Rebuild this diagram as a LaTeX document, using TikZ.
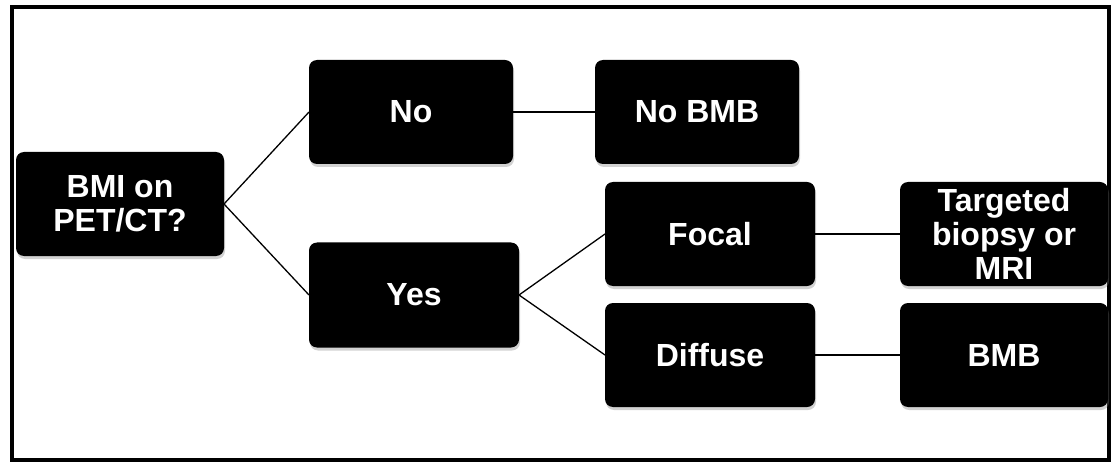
\documentclass[tikz,border=0pt]{standalone}
\usepackage{fontspec}
\setmainfont{Liberation Sans}
\usetikzlibrary{shadows}
\begin{document}
\begin{tikzpicture}[x=1pt,y=-1pt,
  blackbox/.style={fill=black, rounded corners=8pt, text=white,
    font=\fontsize{32}{34}\selectfont\bfseries, align=center,
    inner sep=0pt, outer sep=0pt,
    drop shadow={opacity=0.35, shadow xshift=1pt, shadow yshift=-3pt}},
  link/.style={draw=black, line width=1.3pt}]
\useasboundingbox (0,0) rectangle (1118,462);
\fill[white] (0,0) rectangle (1118,462);
\draw[line width=3.5pt] (12,7) rectangle (1109,460);
\node[blackbox, minimum width=208pt, minimum height=104pt] (bmi) at (120,204) {BMI on\\PET/CT?};
\node[blackbox, minimum width=204pt, minimum height=104pt] (no) at (411,112) {No};
\node[blackbox, minimum width=204pt, minimum height=104pt] (nobmb) at (697,112) {No BMB};
\node[blackbox, minimum width=210pt, minimum height=105pt] (yes) at (414,295) {Yes};
\node[blackbox, minimum width=210pt, minimum height=104pt] (focal) at (710,234) {Focal};
\node[blackbox, minimum width=210pt, minimum height=104pt] (diffuse) at (710,355) {Diffuse};
\node[blackbox, minimum width=208pt, minimum height=104pt] (targeted) at (1004,234) {Targeted\\biopsy or\\MRI};
\node[blackbox, minimum width=208pt, minimum height=104pt] (bmb) at (1004,355) {BMB};
\draw[link] (bmi.east) -- (no.west);
\draw[link] (bmi.east) -- (yes.west);
\draw[link] (no.east) -- (nobmb.west);
\draw[link] (yes.east) -- (focal.west);
\draw[link] (yes.east) -- (diffuse.west);
\draw[link] (focal.east) -- (targeted.west);
\draw[link] (diffuse.east) -- (bmb.west);
\end{tikzpicture}
\end{document}
